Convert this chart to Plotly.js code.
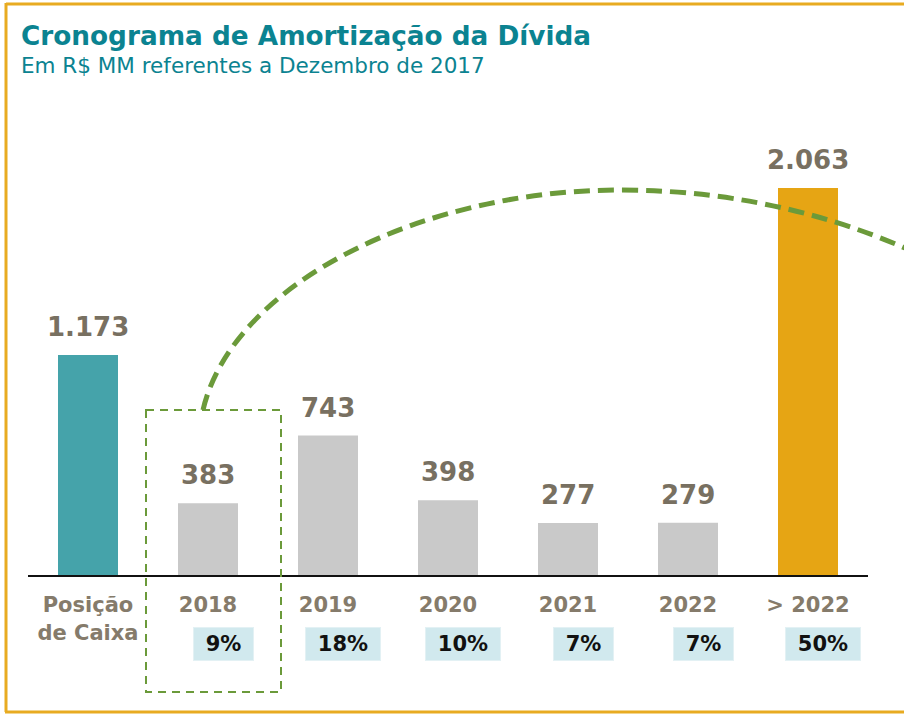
<!DOCTYPE html>
<html>
<head>
<meta charset="utf-8">
<script src="https://cdn.plot.ly/plotly-3.0.1.min.js"></script>
<style>
html,body{margin:0;padding:0;background:#fff;}
#chart{width:904px;height:715px;}
</style>
</head>
<body>
<div id="chart"></div>
<script>
// ---- data ----
var categories = ['Posição<br>de Caixa', '2018', '2019', '2020', '2021', '2022', '> 2022'];
var values = [1173, 383, 743, 398, 277, 279, 2063];
var valueLabels = ['1.173', '383', '743', '398', '277', '279', '2.063'];
var shares = ['', '9%', '18%', '10%', '7%', '7%', '50%'];
var titleText = 'Cronograma de Amortização da Dívida';
var subtitleText = 'Em R$ MM referentes a Dezembro de 2017';

// ---- layout geometry ----
var W = 904, H = 715;
var M = {l: 28, r: 36, t: 100, b: 140};
var PW = W - M.l - M.r, PH = H - M.t - M.b;
function px(x) { return (x - M.l) / PW; }
function py(y) { return (H - M.b - y) / PH; }

var barColors = ['#45a3aa', '#c9c9c9', '#c9c9c9', '#c9c9c9', '#c9c9c9', '#c9c9c9', '#e6a514'];

var trace = {
  type: 'bar',
  x: categories,
  y: values,
  width: 0.5,
  marker: {color: barColors, line: {width: 0}},
  hoverinfo: 'skip'
};

var annotations = [
  {xref: 'paper', yref: 'paper', x: px(19), y: py(36), xanchor: 'left', yanchor: 'middle',
   text: '<b>' + titleText + '</b>', showarrow: false,
   font: {family: 'DejaVu Sans', size: 26.3, color: '#0b8391'}},
  {xref: 'paper', yref: 'paper', x: px(19), y: py(65), xanchor: 'left', yanchor: 'middle',
   text: subtitleText, showarrow: false,
   font: {family: 'DejaVu Sans', size: 21.5, color: '#0b8391'}}
];

values.forEach(function (v, i) {
  annotations.push({
    xref: 'x', yref: 'y', x: i, y: v, yanchor: 'middle', yshift: 28,
    text: '<b>' + valueLabels[i] + '</b>', showarrow: false,
    font: {family: 'DejaVu Sans', size: 26, color: '#787061'}
  });
});

shares.forEach(function (s, i) {
  if (!s) return;
  annotations.push({
    xref: 'x', yref: 'paper', x: i, xshift: 15, y: py(644), yanchor: 'middle',
    text: '<b>' + s + '</b>', showarrow: false,
    width: s.length > 2 ? 74 : 59, height: 32,
    bgcolor: '#d1e9ee', bordercolor: '#e3f1f4', borderwidth: 1, borderpad: 0,
    font: {family: 'DejaVu Sans', size: 21, color: '#111111'}
  });
});

function P(x, y) { return px(x) + ',' + py(y); }
var green = '#6b9a3a';
var shapes = [
  // frame
  {type: 'line', xref: 'paper', yref: 'paper', x0: px(6), y0: py(4), x1: px(904), y1: py(4), line: {color: '#e8ab21', width: 3}},
  {type: 'line', xref: 'paper', yref: 'paper', x0: px(6), y0: py(3), x1: px(6), y1: py(712), line: {color: '#e8ab21', width: 3}},
  {type: 'line', xref: 'paper', yref: 'paper', x0: px(5), y0: py(712), x1: px(904), y1: py(712), line: {color: '#e8ab21', width: 3}},
  // dashed highlight box
  {type: 'rect', xref: 'paper', yref: 'paper', x0: px(146), y0: py(410), x1: px(281), y1: py(692),
   line: {color: green, width: 2, dash: '8px,6px'}, layer: 'above'},
  // arc
  {type: 'path', xref: 'paper', yref: 'paper', layer: 'above',
   path: 'M' + P(203, 410) + ' C' + P(232, 285) + ' ' + P(420, 190) + ' ' + P(620, 190) +
         ' C' + P(745, 190) + ' ' + P(850, 220) + ' ' + P(935, 262),
   line: {color: green, width: 5, dash: '16px,8px'}}
];

var layout = {
  width: W, height: H,
  margin: M,
  paper_bgcolor: '#ffffff', plot_bgcolor: '#ffffff',
  showlegend: false,
  xaxis: {
    type: 'category', range: [-0.5, 6.5], showgrid: false, zeroline: false,
    showline: true, linecolor: '#111111', linewidth: 2, ticks: '',
    ticklabelstandoff: 10,
    tickfont: {family: 'DejaVu Sans', size: 21, color: '#857b6b', weight: 'bold'},
    fixedrange: true
  },
  yaxis: {range: [0, 2532], visible: false, showgrid: false, zeroline: false, fixedrange: true},
  annotations: annotations,
  shapes: shapes
};

Plotly.newPlot('chart', [trace], layout, {displayModeBar: false, staticPlot: true});
</script>
</body>
</html>
